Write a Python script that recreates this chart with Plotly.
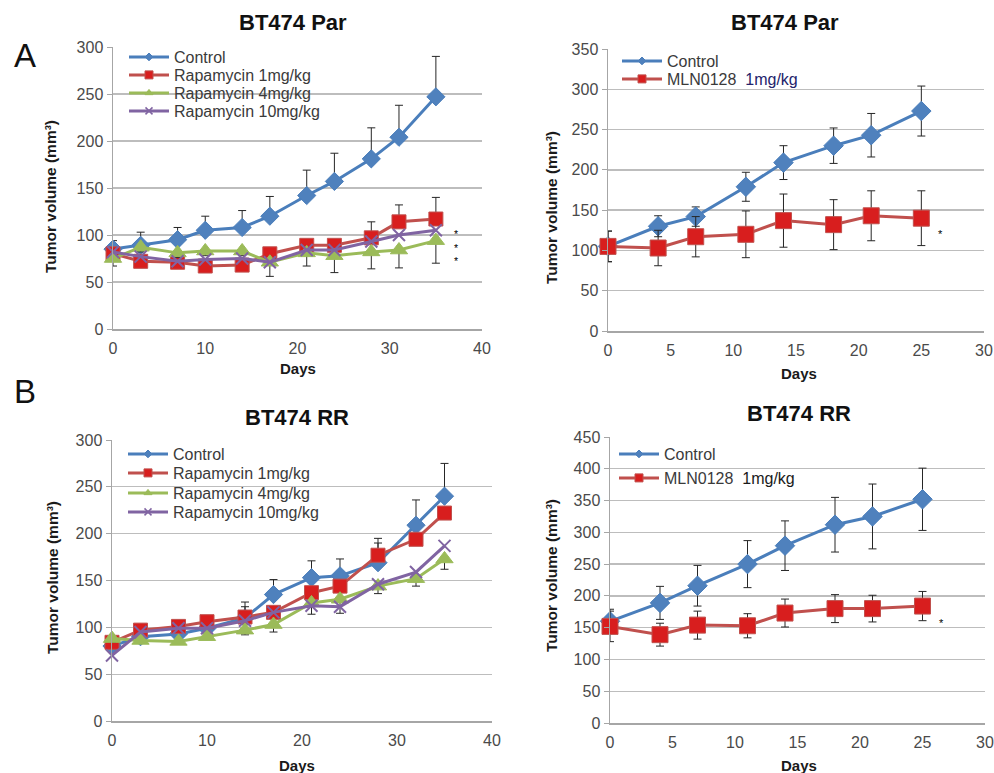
import plotly.graph_objects as go

# ---------------- data ----------------
tl_days = [0, 3, 7, 10, 14, 17, 21, 24, 28, 31, 35]
tl_control = [85, 89, 95, 105, 108, 120, 142, 157, 181, 204, 247]
tl_control_err = [9, 14, 13, 15, 18, 21, 27, 30, 33, 34, 43]
tl_rapa1 = [80, 72, 71, 67, 68, 80, 89, 89, 97, 114, 117]
tl_rapa1_err = [4, 3, 3, 3, 3, 4, 4, 4, 17, 18, 23]
tl_rapa4 = [75, 87, 81, 83, 83, 71, 81, 78, 82, 84, 94]
tl_rapa4_err = [8, 5, 5, 5, 5, 15, 14, 18, 18, 19, 24]
tl_rapa10 = [82, 77, 72, 74, 75, 71, 84, 84, 93, 100, 105]
tl_star_y = [102, 90, 78]

tr_days = [0, 4, 7, 11, 14, 18, 21, 25]
tr_control = [105, 130, 142, 179, 209, 230, 243, 273]
tr_control_err = [19, 13, 12, 18, 21, 22, 27, 31]
tr_mln = [105, 103, 117, 120, 137, 132, 143, 140]
tr_mln_err = [19, 22, 25, 29, 33, 31, 31, 34]
tr_star_y = [121]

bl_days = [0, 3, 7, 10, 14, 17, 21, 24, 28, 32, 35]
bl_control = [80, 90, 93, 99, 110, 135, 153, 155, 169, 209, 240]
bl_control_err = [5, 5, 5, 5, 17, 16, 18, 18, 26, 27, 35]
bl_rapa1 = [84, 97, 101, 106, 111, 116, 137, 144, 177, 194, 222]
bl_rapa1_err = [4, 4, 4, 4, 11, 5, 5, 5, 13, 5, 5]
bl_rapa4 = [88, 86, 85, 90, 97, 103, 126, 130, 144, 152, 173]
bl_rapa4_err = [4, 3, 3, 3, 5, 8, 12, 15, 8, 8, 11]
bl_rapa10 = [70, 95, 99, 99, 107, 116, 123, 122, 146, 159, 187]

br_days = [0, 4, 7, 11, 14, 18, 21, 25]
br_control = [160, 189, 216, 250, 279, 312, 325, 352]
br_control_err = [19, 26, 32, 37, 39, 43, 51, 49]
br_mln = [152, 139, 154, 153, 173, 180, 180, 184]
br_mln_err = [24, 18, 22, 19, 22, 22, 21, 23]
br_star_y = [158]

titles = ["BT474 Par", "BT474 Par", "BT474 RR", "BT474 RR"]
ylab = "Tumor volume (mm³)"
xlab = "Days"

# ---------------- style ----------------
FONT = "Liberation Sans, Arial, sans-serif"
BLUE_L, BLUE_M = "#4A7EBB", "#4F81BD"
RED_L, RED_M = "#C0504D", "#D81E1E"
GRN_L, GRN_M = "#9BBB59", "#9BBB59"
PUR_L = "#8064A2"
ERRC = "#262626"
W, H = 994, 773


def px(x):
    return x / W


def py(y):
    return 1 - y / H


fig = go.Figure()
legend_specs = {}
LEGF = dict(family=FONT, size=16, color="#3a3a3a")


def err(plus=None, minus=None, n=0):
    return dict(type="data", symmetric=False,
                array=plus if plus is not None else [0] * n,
                arrayminus=minus if minus is not None else [0] * n,
                color=ERRC, thickness=1, width=4)


def series(xa, ya, x, y, color_l, color_m, symbol, size, name, leg_pos,
           e=None, mline=None, leg_size=6):
    marker = dict(symbol=symbol, size=size, color=color_m,
                  line=mline or dict(width=1, color=color_l))
    fig.add_trace(go.Scatter(x=x, y=y, mode="lines+markers", xaxis=xa, yaxis=ya,
                             line=dict(color=color_l, width=3), marker=marker,
                             error_y=e, cliponaxis=False, showlegend=False,
                             hoverinfo="skip"))
    # legend entry (one small legend per entry, placed like the reference)
    k = len(legend_specs) + 1
    lname = "legend" if k == 1 else "legend%d" % k
    lx, ly = leg_pos
    legend_specs[lname] = dict(x=px(lx - 50), y=py(ly), xanchor="left", yanchor="middle",
                               bgcolor="rgba(0,0,0,0)", font=LEGF, itemwidth=40,
                               borderwidth=0)
    lm = dict(marker)
    lm["size"] = leg_size
    if mline:
        lm["line"] = dict(width=1.5, color=color_l)
    fig.add_trace(go.Scatter(x=[None], y=[None], mode="lines+markers", xaxis=xa, yaxis=ya,
                             line=dict(color=color_l, width=3), marker=lm,
                             name=name, legend=lname, showlegend=True))


NB = "\u00a0"

# ---- top-left ----  (legend position = start of text, row centre)
n = len(tl_days)
series("x", "y", tl_days, tl_control, BLUE_L, BLUE_M, "diamond", 14, "Control", (174, 57),
       err(plus=tl_control_err, n=n), leg_size=6)
series("x", "y", tl_days, tl_rapa1, RED_L, RED_M, "square", 14, "Rapamycin 1mg/kg", (174, 75),
       err(plus=tl_rapa1_err, n=n), leg_size=8)
series("x", "y", tl_days, tl_rapa4, GRN_L, GRN_M, "triangle-up", 15, "Rapamycin 4mg/kg", (174, 93),
       err(minus=tl_rapa4_err, n=n), leg_size=7)
series("x", "y", tl_days, tl_rapa10, PUR_L, PUR_L, "x-thin-open", 12, "Rapamycin 10mg/kg", (174, 111),
       None, dict(width=2, color=PUR_L), leg_size=7)

# ---- top-right ----
series("x2", "y2", tr_days, tr_control, BLUE_L, BLUE_M, "diamond", 15, "Control", (667, 61),
       err(plus=tr_control_err, minus=tr_control_err), leg_size=6)
series("x2", "y2", tr_days, tr_mln, RED_L, RED_M, "square", 16,
       "MLN0128" + NB + " <span style='color:#23236b'>1mg/kg</span>", (667, 79),
       err(plus=tr_mln_err, minus=tr_mln_err), leg_size=8)

# ---- bottom-left ----
n = len(bl_days)
series("x3", "y3", bl_days, bl_control, BLUE_L, BLUE_M, "diamond", 14, "Control", (173, 454),
       err(plus=bl_control_err, n=n), leg_size=6)
series("x3", "y3", bl_days, bl_rapa1, RED_L, RED_M, "square", 14, "Rapamycin 1mg/kg", (173, 473),
       err(plus=bl_rapa1_err, n=n), leg_size=8)
series("x3", "y3", bl_days, bl_rapa4, GRN_L, GRN_M, "triangle-up", 15, "Rapamycin 4mg/kg", (173, 493),
       err(minus=bl_rapa4_err, n=n), leg_size=7)
series("x3", "y3", bl_days, bl_rapa10, PUR_L, PUR_L, "x-thin-open", 12, "Rapamycin 10mg/kg", (173, 512),
       None, dict(width=2, color=PUR_L), leg_size=7)

# ---- bottom-right ----
series("x4", "y4", br_days, br_control, BLUE_L, BLUE_M, "diamond", 15, "Control", (664, 454),
       err(plus=br_control_err, minus=br_control_err), leg_size=6)
series("x4", "y4", br_days, br_mln, RED_L, RED_M, "square", 16,
       "MLN0128" + NB + " <span style='color:#1a1a1a'>1mg/kg</span>", (664, 478),
       err(plus=br_mln_err, minus=br_mln_err), leg_size=8)

# ---------------- axes ----------------
GRID = "#BDBDBD"
AX = "#A6A6A6"
TICKF = dict(family=FONT, size=16, color="#4a4a4a")


def xax(dom, rng, dt, anchor):
    return dict(domain=dom, range=rng, dtick=dt, tick0=0, showgrid=False, zeroline=False,
                showline=True, linecolor=AX, linewidth=1.5, ticks="outside", ticklen=4,
                tickcolor="rgba(0,0,0,0)", tickfont=TICKF, anchor=anchor, fixedrange=True,
                automargin=False)


def yax(dom, rng, dt, anchor):
    return dict(domain=dom, range=rng, dtick=dt, tick0=0, showgrid=True, gridcolor=GRID,
                gridwidth=1.3, zeroline=False, showline=True, linecolor=AX, linewidth=1.5,
                ticks="outside", ticklen=5, tickcolor=AX, tickfont=TICKF, anchor=anchor,
                fixedrange=True, automargin=False)


# pixel boxes in the window (left, right, top, bottom)
boxes = [(113, 482, 47, 329), (608, 984, 49, 331), (112, 492, 440, 721), (610, 985, 437, 723)]
xr = [[0, 40], [0, 30], [0, 40], [0, 30]]
xd = [10, 5, 10, 5]
yr = [[0, 300], [0, 350], [0, 300], [0, 450]]
yd = [50, 50, 50, 50]

layout_axes = {}
for i, (l, r, t, b) in enumerate(boxes):
    s = "" if i == 0 else str(i + 1)
    layout_axes["xaxis" + s] = xax([px(l), px(r)], xr[i], xd[i], "y" + s)
    layout_axes["yaxis" + s] = yax([py(b), py(t)], yr[i], yd[i], "x" + s)

# ---------------- annotations ----------------
ann = []


def note(text, x, y, size, color="#111111", angle=0, xref="paper", yref="paper"):
    ann.append(dict(text=text, x=x, y=y, xref=xref, yref=yref, showarrow=False,
                    xanchor="center", yanchor="middle", textangle=angle,
                    font=dict(family=FONT, size=size, color=color)))


title_pos = [(293, 23), (785, 23), (297, 417), (799, 413)]
for (x, y), t in zip(title_pos, titles):
    note("<b>" + t + "</b>", px(x), py(y), 22)
ylab_pos = [(50, 197), (551, 208), (52, 578), (551, 576)]
for x, y in ylab_pos:
    note("<b>" + ylab + "</b>", px(x), py(y), 15.5, "#1a1a1a", -90)
xlab_pos = [(298, 369), (799, 373), (297, 765), (799, 765)]
for x, y in xlab_pos:
    note("<b>" + xlab + "</b>", px(x), py(y), 15, "#1a1a1a")
note("A", px(25), py(55), 33)
note("B", px(25), py(391), 33)
note("<br>".join("*" for _ in tl_star_y), 37.2, sum(tl_star_y) / len(tl_star_y) - 3, 10.5,
     "#000000", xref="x", yref="y")
for yv in tr_star_y:
    note("*", 26.5, yv, 11, "#000000", xref="x2", yref="y2")
for yv in br_star_y:
    note("*", 26.5, yv, 11, "#000000", xref="x4", yref="y4")

fig.update_layout(
    width=W, height=H,
    margin=dict(l=0, r=0, t=0, b=0, pad=0, autoexpand=False),
    paper_bgcolor="white", plot_bgcolor="white",
    font=dict(family=FONT),
    annotations=ann,
    hovermode=False,
    **legend_specs,
    **layout_axes,
)

# remove the default page margin so the figure fills the window exactly
fig.write_html("out.html",
               config={"displayModeBar": False, "staticPlot": True},
               post_script="document.body.style.margin='0';"
                           "document.body.style.overflow='hidden';")
